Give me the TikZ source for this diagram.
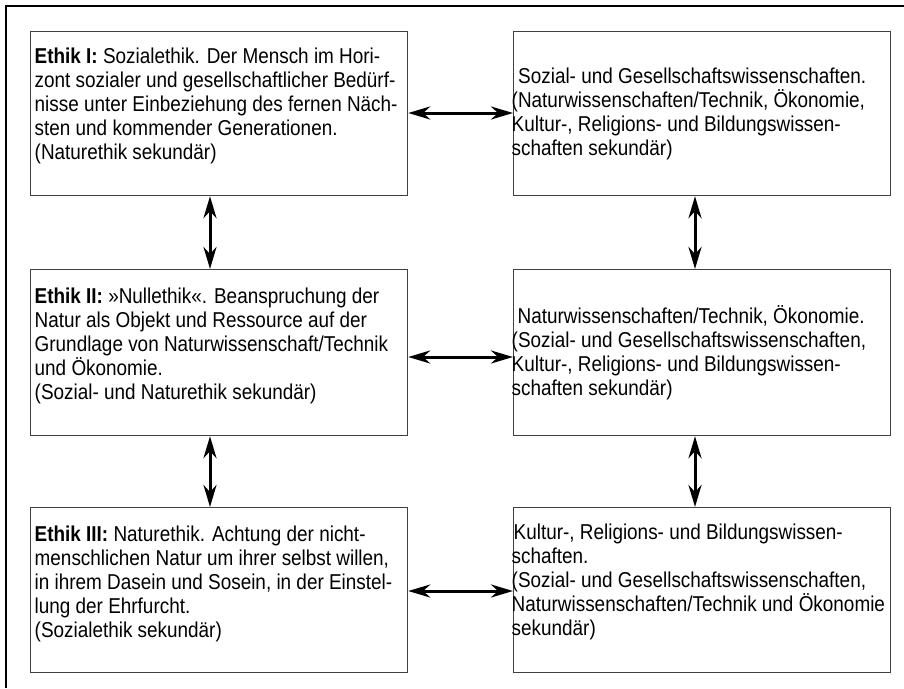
\documentclass[tikz,border=0pt]{standalone}
\usepackage{fontspec}
\setmainfont[FakeStretch=0.88]{Liberation Sans}
\usetikzlibrary{arrows.meta,calc}
\newcommand{\firstln}{\rule{0pt}{20pt}}
\tikzset{
  box/.style={draw=black!75, line width=1.2pt, rectangle, minimum width=377pt, minimum height=164pt, anchor=north west, inner sep=0pt},
  txt/.style={anchor=north west, inner sep=0pt, align=left, font=\fontsize{21.5}{24}\selectfont},
  link/.style={line width=3pt, {Stealth[length=22pt,width=13pt,inset=7pt]}-{Stealth[length=22pt,width=13pt,inset=7pt]}},
  frame/.style={line width=2pt}
}
\begin{document}
\begin{tikzpicture}[x=1pt,y=-1pt]
\useasboundingbox (0,0) rectangle (904,688);
\coordinate (fa) at (6,688);
\coordinate (fb) at (6,6);
\coordinate (fc) at (904,6);
\draw[frame] (fa) -- (fb) -- (fc);
% boxes
\node[box] (L1) at (30,31) {};
\node[box] (R1) at (513,31) {};
\node[box, minimum height=166pt] (L2) at (30,269) {};
\node[box, minimum height=166pt] (R2) at (513,269) {};
\node[box, minimum height=165pt] (L3) at (30,507) {};
\node[box, minimum height=165pt] (R3) at (513,507) {};
% texts
\node[txt] (L1t) at ($(L1.north west)+(4.5,12.3)$) {\firstln\textbf{Ethik I:} Sozialethik. Der Mensch im Hori-\\zont sozialer und gesellschaftlicher Bedürf-\\nisse unter Einbeziehung des fernen Näch-\\sten und kommender Generationen.\\(Naturethik sekundär)};
\node[txt] (R1t) at ($(R1.north west)+(-1.5,32)$) {\firstln\hspace{6.5pt}Sozial- und Gesellschaftswissenschaften.\\(Naturwissenschaften/Technik, Ökonomie,\\Kultur-, Religions- und Bildungswissen-\\schaften sekundär)};
\node[txt] (L2t) at ($(L2.north west)+(4.5,14)$) {\firstln\textbf{Ethik II:} »Nullethik«. Beanspruchung der\\Natur als Objekt und Ressource auf der\\Grundlage von Naturwissenschaft/Technik\\und Ökonomie.\\(Sozial- und Naturethik sekundär)};
\node[txt] (R2t) at ($(R2.north west)+(-1.5,34.3)$) {\firstln\hspace{6pt}Naturwissenschaften/Technik, Ökonomie.\\(Sozial- und Gesellschaftswissenschaften,\\Kultur-, Religions- und Bildungswissen-\\schaften sekundär)};
\node[txt] (L3t) at ($(L3.north west)+(4.5,14)$) {\firstln\textbf{Ethik III:} Naturethik. Achtung der nicht-\\menschlichen Natur um ihrer selbst willen,\\in ihrem Dasein und Sosein, in der Einstel-\\lung der Ehrfurcht.\\(Sozialethik sekundär)};
\node[txt] (R3t) at ($(R3.north west)+(-1.5,12.3)$) {\firstln\hspace{2pt}Kultur-, Religions- und Bildungswissen-\\schaften.\\(Sozial- und Gesellschaftswissenschaften,\\Naturwissenschaften/Technik und Ökonomie\\sekundär)};
% horizontal arrows
\draw[link] (L1.east |- 0,113) -- (R1.west |- 0,113);
\draw[link] (L2.east |- 0,357) -- (R2.west |- 0,357);
\draw[link] (L3.east |- 0,591) -- (R3.west |- 0,591);
% vertical arrows
\draw[link] (L1.south -| 210,0) -- (L2.north -| 210,0);
\draw[link] (R1.south -| 695,0) -- (R2.north -| 695,0);
\draw[link] (L2.south -| 210,0) -- (L3.north -| 210,0);
\draw[link] (R2.south -| 695,0) -- (R3.north -| 695,0);
\end{tikzpicture}
\end{document}
